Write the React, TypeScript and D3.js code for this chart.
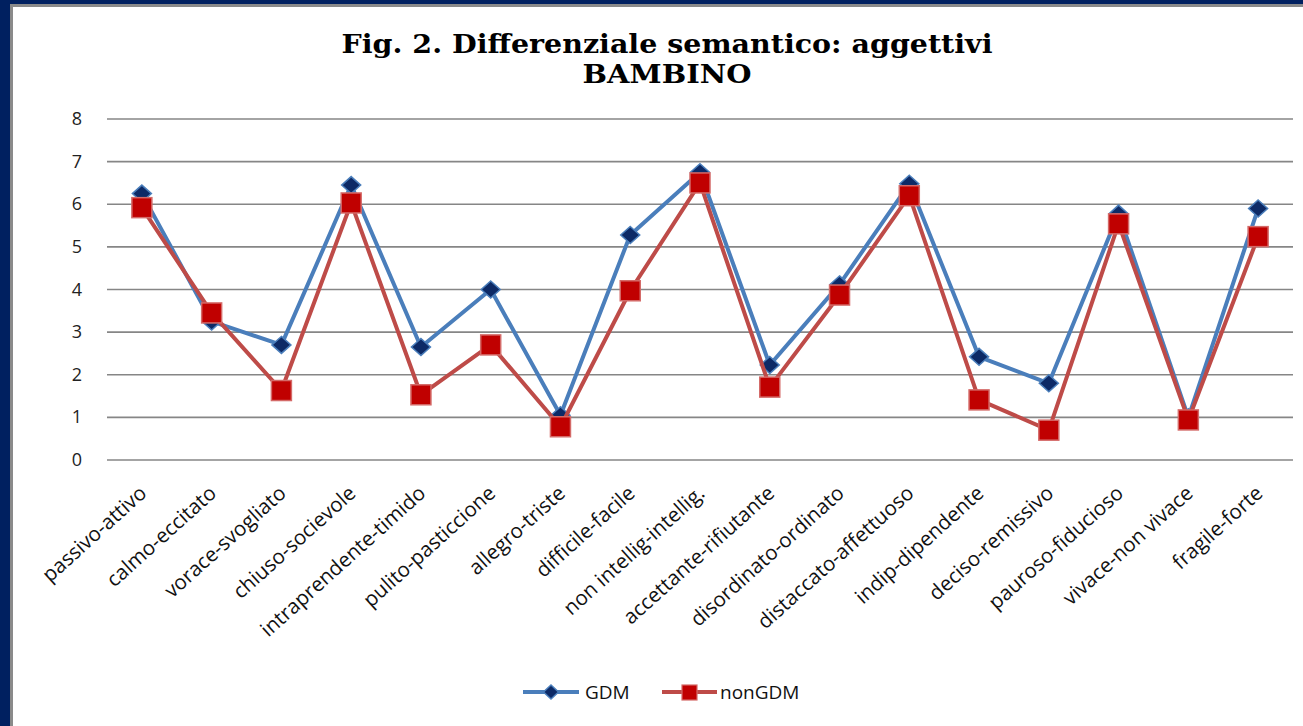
import React from "react";
import * as d3 from "d3";

const categories = [
  "passivo-attivo",
  "calmo-eccitato",
  "vorace-svogliato",
  "chiuso-socievole",
  "intraprendente-timido",
  "pulito-pasticcione",
  "allegro-triste",
  "difficile-facile",
  "non intellig-intellig.",
  "accettante-rifiutante",
  "disordinato-ordinato",
  "distaccato-affettuoso",
  "indip-dipendente",
  "deciso-remissivo",
  "pauroso-fiducioso",
  "vivace-non vivace",
  "fragile-forte",
];

const gdm = [6.25, 3.25, 2.7, 6.45, 2.65, 4.0, 1.05, 5.28, 6.75, 2.23, 4.12, 6.48, 2.42, 1.8, 5.78, 1.0, 5.9];
const nonGdm = [5.92, 3.45, 1.63, 6.03, 1.53, 2.7, 0.78, 3.97, 6.5, 1.71, 3.87, 6.2, 1.41, 0.7, 5.54, 0.94, 5.24];

const yTicks = [0, 1, 2, 3, 4, 5, 6, 7, 8];

const W = 1303;
const H = 726;
const plot = { left: 107, right: 1293, top: 119, bottom: 460 };

const BLUE = "#4a7ebb";
const NAVY = "#0d2a66";
const RED = "#be4b48";
const DARKRED = "#c00000";

export default function App() {
  const x = d3
    .scaleBand<string>()
    .domain(categories)
    .range([plot.left, plot.right]);
  const y = d3.scaleLinear().domain([0, 8]).range([plot.bottom, plot.top]);
  const cx = (c: string) => (x(c) ?? 0) + x.bandwidth() / 2;

  const line = d3
    .line<number>()
    .x((_, i) => cx(categories[i]))
    .y((d) => y(d));

  const diamond = (px: number, py: number, rx: number, ry: number) =>
    `M${px},${py - ry}L${px + rx},${py}L${px},${py + ry}L${px - rx},${py}Z`;

  const labelFont = "'Open Sans', 'Noto Sans', sans-serif";
  const titleFont = "'DejaVu Serif', 'Liberation Serif', serif";

  return (
    <svg
      width={W}
      height={H}
      style={{ position: "absolute", left: 0, top: 0, background: "#fff" }}
    >
      {/* frame */}
      <rect x={0} y={0} width={W} height={H} fill="#fff" />
      <rect x={0} y={0} width={W} height={4} fill="#002060" />
      <rect x={0} y={4} width={W} height={3} fill="#8a8a8a" />
      <rect x={0} y={0} width={10} height={H} fill="#002060" />
      <rect x={10} y={4} width={3} height={H - 4} fill="#8a8a8a" />

      {/* title */}
      <text
        x={667}
        y={53}
        textAnchor="middle"
        fontFamily={titleFont}
        fontWeight="bold"
        fontSize={26}
        textLength={651}
        lengthAdjust="spacingAndGlyphs"
        fill="#000"
      >
        Fig. 2. Differenziale semantico: aggettivi
      </text>
      <text
        x={667}
        y={83}
        textAnchor="middle"
        fontFamily={titleFont}
        fontWeight="bold"
        fontSize={26}
        textLength={169}
        lengthAdjust="spacingAndGlyphs"
        fill="#000"
      >
        BAMBINO
      </text>

      {/* gridlines and y ticks */}
      {yTicks.map((t) => (
        <g key={t}>
          <line
            x1={plot.left}
            x2={plot.right}
            y1={y(t)}
            y2={y(t)}
            stroke="#868686"
            strokeWidth={1.6}
          />
          <text
            x={82}
            y={y(t) + 6}
            textAnchor="end"
            fontFamily={labelFont}
            fontSize={18}
            fill="#222"
          >
            {t}
          </text>
        </g>
      ))}

      {/* category labels */}
      {categories.map((c) => (
        <text
          key={c}
          transform={`translate(${cx(c) + 6},${plot.bottom + 35}) rotate(-42)`}
          textAnchor="end"
          fontFamily={labelFont}
          fontSize={20.5}
          fill="#111"
        >
          {c}
        </text>
      ))}

      {/* GDM series */}
      <path d={line(gdm) ?? ""} fill="none" stroke={BLUE} strokeWidth={4} strokeLinejoin="round" />
      {gdm.map((v, i) => (
        <path
          key={"g" + i}
          d={diamond(cx(categories[i]), y(v), 9.5, 8.5)}
          fill={NAVY}
          stroke={BLUE}
          strokeWidth={1.5}
        />
      ))}

      {/* nonGDM series */}
      <path d={line(nonGdm) ?? ""} fill="none" stroke={RED} strokeWidth={4} strokeLinejoin="round" />
      {nonGdm.map((v, i) => (
        <rect
          key={"n" + i}
          x={cx(categories[i]) - 10}
          y={y(v) - 10}
          width={20}
          height={20}
          fill={DARKRED}
          stroke="#d46a68"
          strokeWidth={1.5}
        />
      ))}

      {/* legend */}
      <g>
        <line x1={523} x2={579} y1={692} y2={692} stroke={BLUE} strokeWidth={4} />
        <path d={diamond(551, 692, 7.5, 7)} fill={NAVY} stroke={BLUE} strokeWidth={1.5} />
        <text x={585} y={699} fontFamily={labelFont} fontSize={19} fill="#111">
          GDM
        </text>
        <line x1={662} x2={717} y1={692} y2={692} stroke={RED} strokeWidth={4} />
        <rect x={682} y={685} width={15} height={15} fill={DARKRED} stroke="#d46a68" strokeWidth={1.2} />
        <text x={720} y={699} fontFamily={labelFont} fontSize={19} fill="#111">
          nonGDM
        </text>
      </g>
    </svg>
  );
}
